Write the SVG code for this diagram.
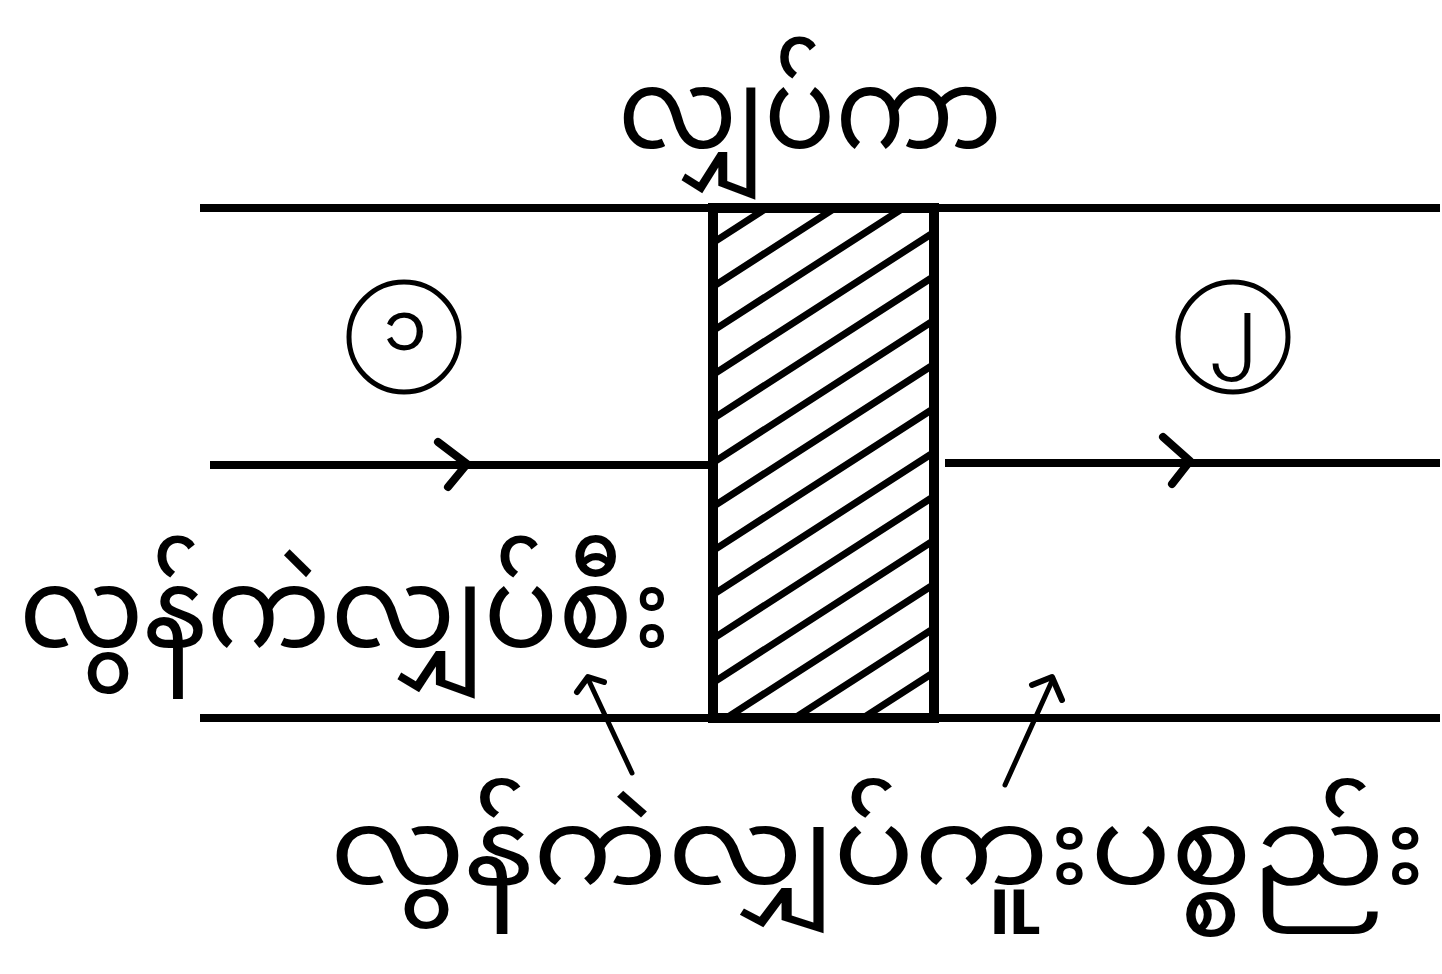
<svg xmlns="http://www.w3.org/2000/svg" width="1442" height="974" viewBox="0 0 1442 974">
  <style>
    .ln{stroke:#000;stroke-width:8;fill:none;stroke-linecap:butt}
    .hatch{stroke:#000;stroke-width:7;fill:none}
    .arr{stroke:#000;stroke-width:8;fill:none;stroke-linecap:round;stroke-linejoin:round}
    .lead{stroke:#000;stroke-width:5;fill:none;stroke-linecap:round;stroke-linejoin:round}
    .head{stroke:#000;stroke-width:6;fill:none;stroke-linecap:round;stroke-linejoin:round}
    .circ{stroke:#000;stroke-width:5;fill:none}
    .t{font-family:"Noto Sans Myanmar","Noto Sans","DejaVu Sans",sans-serif;fill:#000}
  </style>
  <defs>
    <clipPath id="inner"><rect x="717" y="212" width="212" height="502"/></clipPath>
  </defs>
  <rect width="1442" height="974" fill="#fff"/>
  <g id="connectors">
    <line class="ln" x1="200" y1="208" x2="1440" y2="208"/>
    <line class="ln" x1="200" y1="718" x2="1440" y2="718"/>
    <line class="ln" x1="210" y1="465" x2="712" y2="465"/>
    <line class="ln" x1="945" y1="463" x2="1440" y2="463"/>
    <polyline class="arr" points="438,442 467,464 448,487"/>
    <polyline class="arr" points="1163,437 1190,461 1172,484"/>
    <line class="lead" x1="632" y1="773" x2="589" y2="681"/>
    <polyline class="head" points="577,692 588,677 604,682"/>
    <line class="lead" x1="1005" y1="785" x2="1052" y2="681"/>
    <polyline class="head" points="1032,685 1052,677 1062,700"/>
  </g>
  <g id="insulator">
    <g clip-path="url(#inner)">
      <path class="hatch" d="M700,119 L950,-42 M700,163 L950,2 M700,207 L950,46 M700,251 L950,90 M700,295 L950,134 M700,339 L950,178 M700,383 L950,222 M700,427 L950,266 M700,471 L950,310 M700,515 L950,354 M700,559 L950,398 M700,603 L950,442 M700,647 L950,486 M700,691 L950,530 M700,735 L950,574 M700,779 L950,618 M700,823 L950,662 M700,867 L950,706"/>
    </g>
    <rect x="713" y="208" width="221" height="510" fill="none" stroke="#000" stroke-width="10"/>
  </g>
  <g id="region1">
    <circle class="circ" cx="404" cy="337" r="55"/>
    <text class="t" x="405" y="350" font-size="70" text-anchor="middle">၁</text>
  </g>
  <g id="region2">
    <circle class="circ" cx="1233" cy="337" r="55"/>
    <text class="t" x="1233" y="350" font-size="70" text-anchor="middle">၂</text>
  </g>
  <g id="label-top">
    <text class="t" x="810" y="148" font-size="112" text-anchor="middle" textLength="384" lengthAdjust="spacingAndGlyphs">လျှပ်ကာ</text>
  </g>
  <g id="label-left">
    <text class="t" x="345" y="647" font-size="112" text-anchor="middle" textLength="652" lengthAdjust="spacingAndGlyphs">လွန်ကဲလျှပ်စီး</text>
  </g>
  <g id="label-bottom">
    <text class="t" x="878" y="884" font-size="106" text-anchor="middle" textLength="1096" lengthAdjust="spacingAndGlyphs">လွန်ကဲလျှပ်ကူးပစ္စည်း</text>
  </g>
</svg>
